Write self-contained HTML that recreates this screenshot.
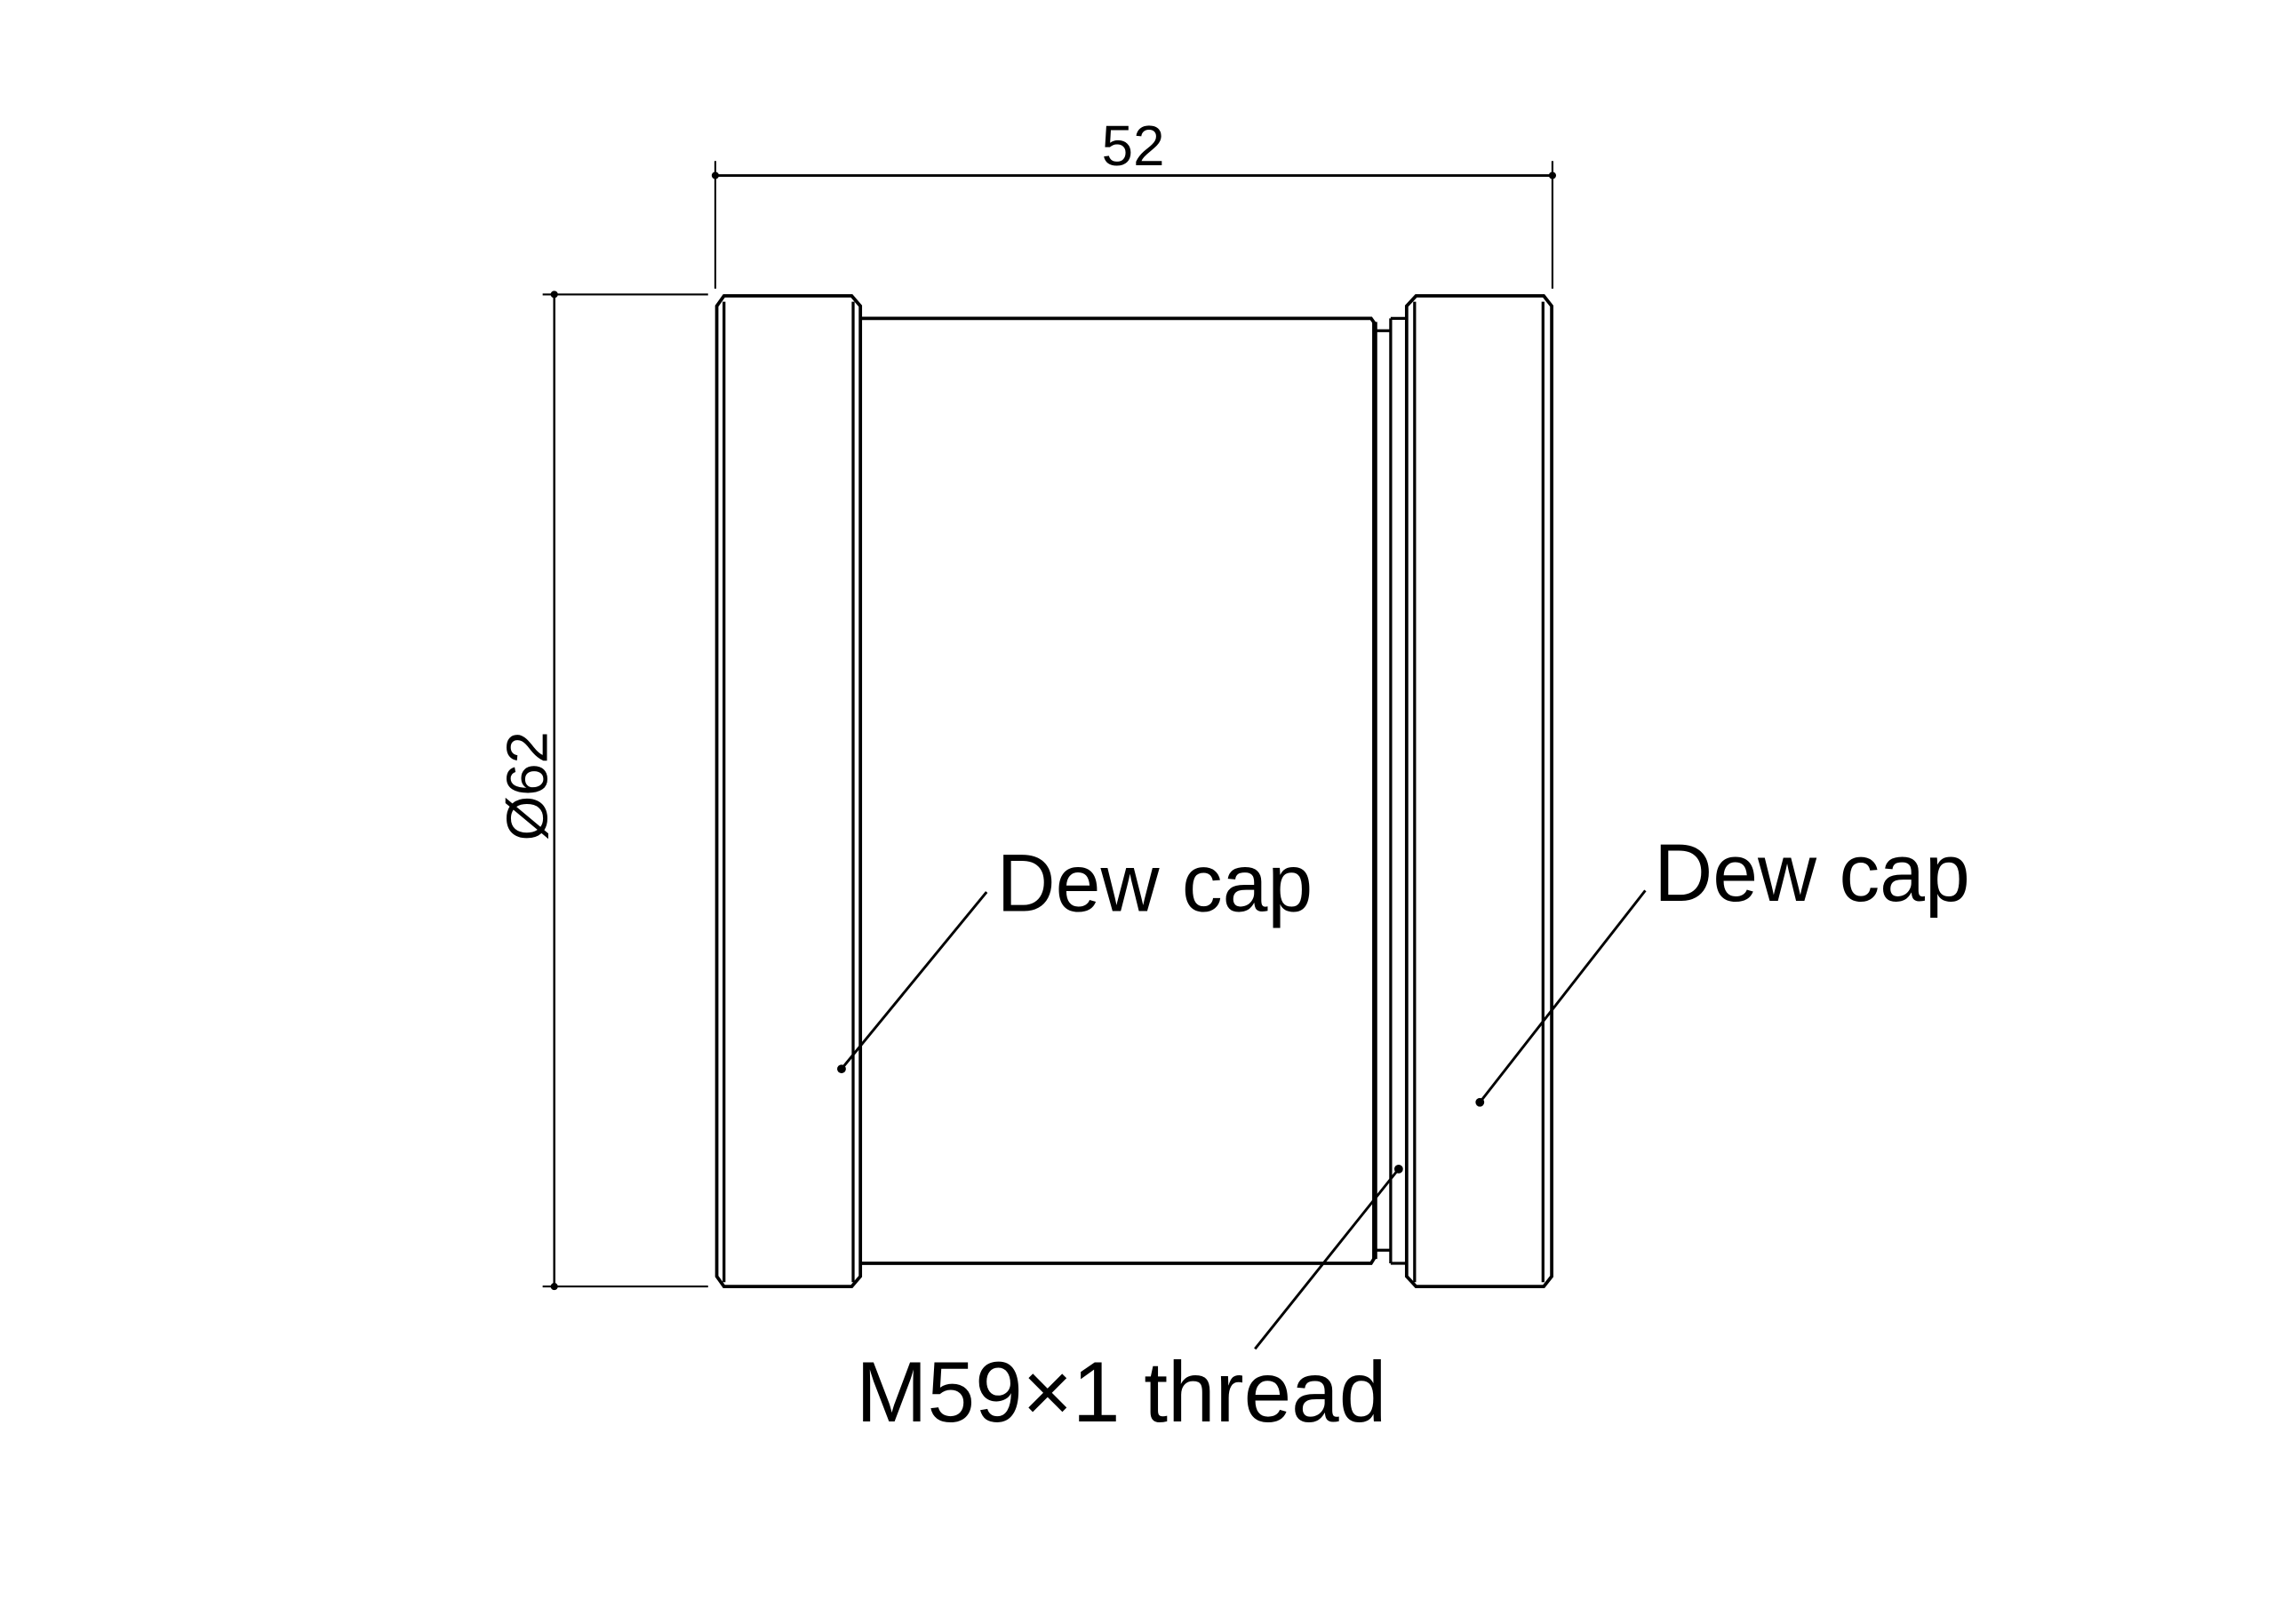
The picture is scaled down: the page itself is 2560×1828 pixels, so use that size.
<!DOCTYPE html>
<html><head><meta charset="utf-8"><style>html,body{margin:0;padding:0;background:#fff}svg{display:block}</style></head>
<body>
<svg width="2560" height="1828" viewBox="0 0 1568 1119.7" xmlns="http://www.w3.org/2000/svg">
<g stroke="#000" fill="none" stroke-width="2">
<line x1="493" y1="111" x2="493" y2="199" stroke-width="1.3"/>
<line x1="1070" y1="111" x2="1070" y2="199" stroke-width="1.3"/>
<line x1="493" y1="121" x2="1070" y2="121" stroke-width="1.8"/>
<line x1="374" y1="203" x2="488" y2="203" stroke-width="1.3"/>
<line x1="374" y1="887" x2="488" y2="887" stroke-width="1.3"/>
<line x1="382" y1="203" x2="382" y2="887" stroke-width="1.5"/>
<!-- left cap -->
<path d="M499,204 L587,204 L593,211 L593,880 L587,887 L499,887 L494,880 L494,211 Z" stroke-width="2.3"/>
<line x1="499" y1="208" x2="499" y2="884" stroke-width="2"/>
<line x1="588" y1="208" x2="588" y2="884" stroke-width="2"/>
<!-- body -->
<path d="M594,219.5 L945,219.5 L947.5,223 L947.5,867 L945,871 L594,871" stroke-width="2.3"/>
<line x1="947.5" y1="222" x2="947.5" y2="868" stroke-width="3.5"/>
<path d="M948,228 L958.5,228 M948,862 L958.5,862" stroke-width="2"/>
<path d="M958.5,219.5 L958.5,871" stroke-width="2"/>
<path d="M958.5,219.5 L969.5,219.5 M958.5,871 L969.5,871" stroke-width="2"/>
<!-- right cap -->
<path d="M976,204 L1064,204 L1069.5,211 L1069.5,880 L1064,887 L976,887 L969.5,880 L969.5,211 Z" stroke-width="2.3"/>
<line x1="975" y1="208" x2="975" y2="884" stroke-width="2"/>
<line x1="1063.5" y1="208" x2="1063.5" y2="884" stroke-width="2"/>
<!-- leaders -->
<line x1="580" y1="737" x2="680" y2="615" stroke-width="1.8"/>
<line x1="1020" y1="760" x2="1134" y2="614" stroke-width="1.8"/>
<line x1="964" y1="806" x2="865" y2="930" stroke-width="1.8"/>
</g>
<g fill="#000">
<circle cx="493" cy="121" r="2.5"/><circle cx="1070" cy="121" r="2.5"/>
<circle cx="382" cy="203" r="2.5"/><circle cx="382" cy="887" r="2.5"/>
<circle cx="580" cy="737" r="3"/><circle cx="1020" cy="760" r="3"/><circle cx="964" cy="806" r="3"/>
</g>
<g font-family="'Liberation Sans','Noto Sans CJK SC',sans-serif" fill="#000">
<text x="781" y="114" font-size="39" text-anchor="middle">52</text>
<text transform="translate(377,542) rotate(-90)" font-size="40" text-anchor="middle">Ø62</text>
<text x="687" y="628" font-size="56">Dew cap</text>
<text x="1140" y="621" font-size="56">Dew cap</text>
<text x="590" y="980" font-size="59">M59×1 thread</text>
</g>
</svg>
</body></html>
